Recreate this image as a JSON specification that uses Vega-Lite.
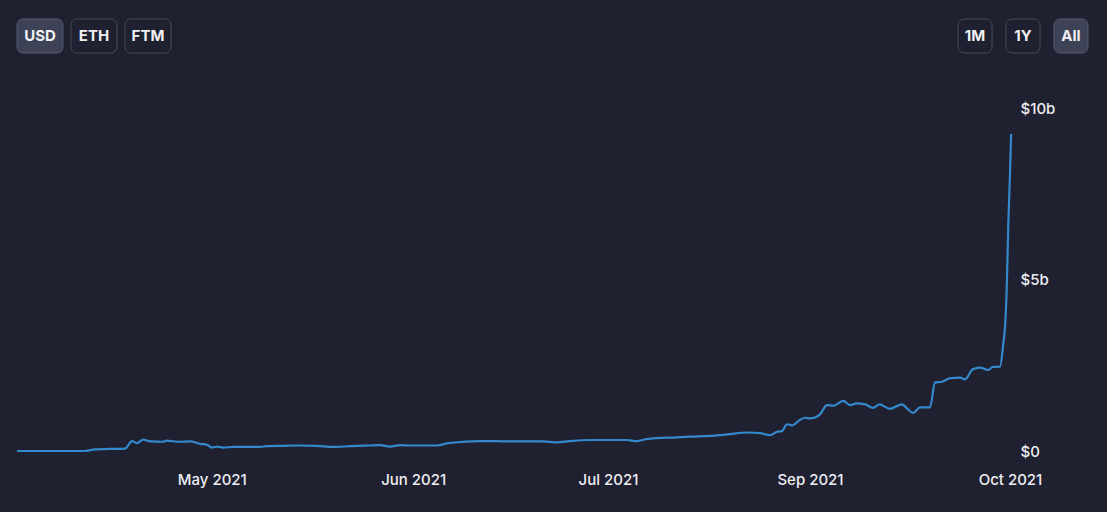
{
  "$schema": "https://vega.github.io/schema/vega-lite/v6.json",
  "autosize": {"type": "none"},
  "padding": {"left": 17, "top": 108, "right": 97, "bottom": 61},
  "width": 993,
  "height": 343,
  "background": "#1f2030",
  "config": {
    "view": {"stroke": null},
    "font": "Inter",
    "axis": {"grid": false, "domain": false, "ticks": false, "labelFont": "Inter", "labelColor": "#eeeef2", "labelFontSize": 15, "labelFontWeight": 500, "title": null}
  },
  "datasets": {
    "tvl": [
      {"date": "2021-04-01T00:00:00Z", "tvl_bn": 0.0},
      {"date": "2021-04-06T00:00:00Z", "tvl_bn": 0.0},
      {"date": "2021-04-11T12:00:00Z", "tvl_bn": 0.0},
      {"date": "2021-04-13T00:00:00Z", "tvl_bn": 0.05},
      {"date": "2021-04-15T07:00:00Z", "tvl_bn": 0.06},
      {"date": "2021-04-17T15:00:00Z", "tvl_bn": 0.07},
      {"date": "2021-04-18T17:00:00Z", "tvl_bn": 0.29},
      {"date": "2021-04-19T12:00:00Z", "tvl_bn": 0.23},
      {"date": "2021-04-20T10:00:00Z", "tvl_bn": 0.33},
      {"date": "2021-04-21T12:00:00Z", "tvl_bn": 0.28},
      {"date": "2021-04-23T12:00:00Z", "tvl_bn": 0.27},
      {"date": "2021-04-24T00:00:00Z", "tvl_bn": 0.30},
      {"date": "2021-04-26T00:00:00Z", "tvl_bn": 0.27},
      {"date": "2021-04-27T15:00:00Z", "tvl_bn": 0.28},
      {"date": "2021-04-29T05:00:00Z", "tvl_bn": 0.21},
      {"date": "2021-04-30T07:00:00Z", "tvl_bn": 0.18},
      {"date": "2021-05-01T00:00:00Z", "tvl_bn": 0.10},
      {"date": "2021-05-01T19:00:00Z", "tvl_bn": 0.13},
      {"date": "2021-05-02T17:00:00Z", "tvl_bn": 0.10},
      {"date": "2021-05-04T07:00:00Z", "tvl_bn": 0.12},
      {"date": "2021-05-08T10:00:00Z", "tvl_bn": 0.12},
      {"date": "2021-05-09T12:00:00Z", "tvl_bn": 0.14},
      {"date": "2021-05-12T00:00:00Z", "tvl_bn": 0.15},
      {"date": "2021-05-14T14:00:00Z", "tvl_bn": 0.16},
      {"date": "2021-05-17T05:00:00Z", "tvl_bn": 0.15},
      {"date": "2021-05-19T17:00:00Z", "tvl_bn": 0.12},
      {"date": "2021-05-22T07:00:00Z", "tvl_bn": 0.14},
      {"date": "2021-05-25T07:00:00Z", "tvl_bn": 0.16},
      {"date": "2021-05-26T22:00:00Z", "tvl_bn": 0.17},
      {"date": "2021-05-28T10:00:00Z", "tvl_bn": 0.125},
      {"date": "2021-05-30T00:00:00Z", "tvl_bn": 0.17},
      {"date": "2021-05-31T12:00:00Z", "tvl_bn": 0.16},
      {"date": "2021-06-04T17:00:00Z", "tvl_bn": 0.16},
      {"date": "2021-06-06T05:00:00Z", "tvl_bn": 0.22},
      {"date": "2021-06-08T05:00:00Z", "tvl_bn": 0.26},
      {"date": "2021-06-11T07:00:00Z", "tvl_bn": 0.29},
      {"date": "2021-06-15T22:00:00Z", "tvl_bn": 0.28},
      {"date": "2021-06-21T00:00:00Z", "tvl_bn": 0.28},
      {"date": "2021-06-23T02:00:00Z", "tvl_bn": 0.25},
      {"date": "2021-06-25T02:00:00Z", "tvl_bn": 0.29},
      {"date": "2021-06-28T17:00:00Z", "tvl_bn": 0.32},
      {"date": "2021-07-01T00:00:00Z", "tvl_bn": 0.32},
      {"date": "2021-07-06T19:00:00Z", "tvl_bn": 0.32},
      {"date": "2021-07-09T22:00:00Z", "tvl_bn": 0.29},
      {"date": "2021-07-13T00:00:00Z", "tvl_bn": 0.35},
      {"date": "2021-07-22T05:00:00Z", "tvl_bn": 0.40},
      {"date": "2021-07-26T05:00:00Z", "tvl_bn": 0.42},
      {"date": "2021-08-01T07:00:00Z", "tvl_bn": 0.44},
      {"date": "2021-08-07T10:00:00Z", "tvl_bn": 0.49},
      {"date": "2021-08-12T17:00:00Z", "tvl_bn": 0.54},
      {"date": "2021-08-16T17:00:00Z", "tvl_bn": 0.52},
      {"date": "2021-08-19T17:00:00Z", "tvl_bn": 0.46},
      {"date": "2021-08-21T22:00:00Z", "tvl_bn": 0.56},
      {"date": "2021-08-23T10:00:00Z", "tvl_bn": 0.58},
      {"date": "2021-08-24T22:00:00Z", "tvl_bn": 0.78},
      {"date": "2021-08-26T12:00:00Z", "tvl_bn": 0.75},
      {"date": "2021-08-29T00:00:00Z", "tvl_bn": 0.91},
      {"date": "2021-08-30T12:00:00Z", "tvl_bn": 0.97},
      {"date": "2021-09-01T00:00:00Z", "tvl_bn": 0.95},
      {"date": "2021-09-02T12:00:00Z", "tvl_bn": 1.07},
      {"date": "2021-09-03T13:00:00Z", "tvl_bn": 1.34},
      {"date": "2021-09-04T11:00:00Z", "tvl_bn": 1.32},
      {"date": "2021-09-06T00:00:00Z", "tvl_bn": 1.46},
      {"date": "2021-09-07T00:00:00Z", "tvl_bn": 1.34},
      {"date": "2021-09-08T00:00:00Z", "tvl_bn": 1.39},
      {"date": "2021-09-09T06:00:00Z", "tvl_bn": 1.36},
      {"date": "2021-09-10T11:00:00Z", "tvl_bn": 1.26},
      {"date": "2021-09-11T10:00:00Z", "tvl_bn": 1.36},
      {"date": "2021-09-13T00:00:00Z", "tvl_bn": 1.23},
      {"date": "2021-09-14T19:00:00Z", "tvl_bn": 1.36},
      {"date": "2021-09-15T17:00:00Z", "tvl_bn": 1.21},
      {"date": "2021-09-16T11:00:00Z", "tvl_bn": 1.11},
      {"date": "2021-09-17T12:00:00Z", "tvl_bn": 1.27},
      {"date": "2021-09-19T00:00:00Z", "tvl_bn": 1.27},
      {"date": "2021-09-19T18:00:00Z", "tvl_bn": 2.00},
      {"date": "2021-09-20T19:00:00Z", "tvl_bn": 2.02},
      {"date": "2021-09-22T00:00:00Z", "tvl_bn": 2.12},
      {"date": "2021-09-23T12:00:00Z", "tvl_bn": 2.14},
      {"date": "2021-09-24T06:00:00Z", "tvl_bn": 2.09},
      {"date": "2021-09-25T10:00:00Z", "tvl_bn": 2.38},
      {"date": "2021-09-26T12:00:00Z", "tvl_bn": 2.43},
      {"date": "2021-09-27T17:00:00Z", "tvl_bn": 2.36},
      {"date": "2021-09-28T11:00:00Z", "tvl_bn": 2.45},
      {"date": "2021-09-29T12:00:00Z", "tvl_bn": 2.46},
      {"date": "2021-09-30T00:00:00Z", "tvl_bn": 3.14},
      {"date": "2021-09-30T07:00:00Z", "tvl_bn": 3.72},
      {"date": "2021-09-30T12:00:00Z", "tvl_bn": 4.68},
      {"date": "2021-09-30T18:00:00Z", "tvl_bn": 6.63},
      {"date": "2021-10-01T00:00:00Z", "tvl_bn": 8.08},
      {"date": "2021-10-01T04:00:00Z", "tvl_bn": 9.24}
    ],
    "currency": [
      {"label": "USD", "selected": true},
      {"label": "ETH", "selected": false},
      {"label": "FTM", "selected": false}
    ],
    "period": [
      {"label": "1M", "selected": false},
      {"label": "1Y", "selected": false},
      {"label": "All", "selected": true}
    ]
  },
  "layer": [
    {
      "data": {"name": "tvl"},
      "mark": {"type": "line", "color": "#3489cc", "strokeWidth": 2.2, "interpolate": "monotone"},
      "encoding": {
        "x": {
          "field": "date", "type": "temporal",
          "scale": {
            "type": "utc", "nice": false,
            "domain": [1617235200000, 1625097600000, 1630454400000, 1633046400000],
            "domainRaw": {"expr": "[1617235200000, 1625097600000, 1630454400000, 1633046400000]"},
            "range": [0, 591, 793, 993]
          },
          "axis": {
            "orient": "bottom",
            "values": [1619827200000, 1622505600000, 1625097600000, 1630454400000, 1633046400000],
            "format": "%b %Y",
            "labelPadding": 21,
            "labelFlush": false,
            "labelOverlap": false
          }
        },
        "y": {
          "field": "tvl_bn", "type": "quantitative",
          "scale": {"domain": [0, 10], "nice": false, "zero": true},
          "axis": {
            "orient": "right",
            "values": [0, 5, 10],
            "labelExpr": "datum.value == 0 ? '$0' : '$' + datum.value + 'b'",
            "labelPadding": 10,
            "labelAlign": "left",
            "labelBaseline": "middle"
          }
        }
      }
    },
    {
      "data": {"name": "currency"},
      "mark": {"type": "rect", "cornerRadius": 6, "strokeWidth": 1},
      "encoding": {
        "x": {"field": "label", "type": "nominal", "sort": null, "axis": null,
              "scale": {"type": "band", "domain": ["USD", "ETH", "FTM"], "range": [0, 154], "paddingInner": 0.148, "paddingOuter": 0}},
        "y": {"datum": "toolbar", "type": "nominal", "axis": null,
              "scale": {"type": "band", "domain": ["toolbar"], "range": [-89, -55], "paddingInner": 0, "paddingOuter": 0}},
        "fill": {"condition": {"test": "datum.selected", "value": "#3e4257"}, "value": "#1f2030"},
        "stroke": {"condition": {"test": "datum.selected", "value": "#565a6e"}, "value": "#4a4d5e"}
      }
    },
    {
      "data": {"name": "currency"},
      "mark": {"type": "text", "fontSize": 15, "fontWeight": "bold", "color": "#f0f0f3", "baseline": "middle", "align": "center"},
      "encoding": {
        "x": {"field": "label", "type": "nominal", "sort": null, "axis": null, "bandPosition": 0.5,
              "scale": {"type": "band", "domain": ["USD", "ETH", "FTM"], "range": [0, 154], "paddingInner": 0.148, "paddingOuter": 0}},
        "y": {"datum": "toolbar", "type": "nominal", "axis": null, "bandPosition": 0.5,
              "scale": {"type": "band", "domain": ["toolbar"], "range": [-89, -55], "paddingInner": 0, "paddingOuter": 0}},
        "text": {"field": "label"}
      }
    },
    {
      "data": {"name": "period"},
      "mark": {"type": "rect", "cornerRadius": 6, "strokeWidth": 1},
      "encoding": {
        "x": {"field": "label", "type": "nominal", "sort": null, "axis": null,
              "scale": {"type": "band", "domain": ["1M", "1Y", "All"], "range": [941, 1071], "paddingInner": 0.29, "paddingOuter": 0}},
        "y": {"datum": "toolbar", "type": "nominal", "axis": null,
              "scale": {"type": "band", "domain": ["toolbar"], "range": [-89, -55], "paddingInner": 0, "paddingOuter": 0}},
        "fill": {"condition": {"test": "datum.selected", "value": "#3e4257"}, "value": "#1f2030"},
        "stroke": {"condition": {"test": "datum.selected", "value": "#565a6e"}, "value": "#4a4d5e"}
      }
    },
    {
      "data": {"name": "period"},
      "mark": {"type": "text", "fontSize": 15, "fontWeight": "bold", "color": "#f0f0f3", "baseline": "middle", "align": "center"},
      "encoding": {
        "x": {"field": "label", "type": "nominal", "sort": null, "axis": null, "bandPosition": 0.5,
              "scale": {"type": "band", "domain": ["1M", "1Y", "All"], "range": [941, 1071], "paddingInner": 0.29, "paddingOuter": 0}},
        "y": {"datum": "toolbar", "type": "nominal", "axis": null, "bandPosition": 0.5,
              "scale": {"type": "band", "domain": ["toolbar"], "range": [-89, -55], "paddingInner": 0, "paddingOuter": 0}},
        "text": {"field": "label"}
      }
    }
  ],
  "resolve": {"scale": {"x": "independent", "y": "independent"}}
}
